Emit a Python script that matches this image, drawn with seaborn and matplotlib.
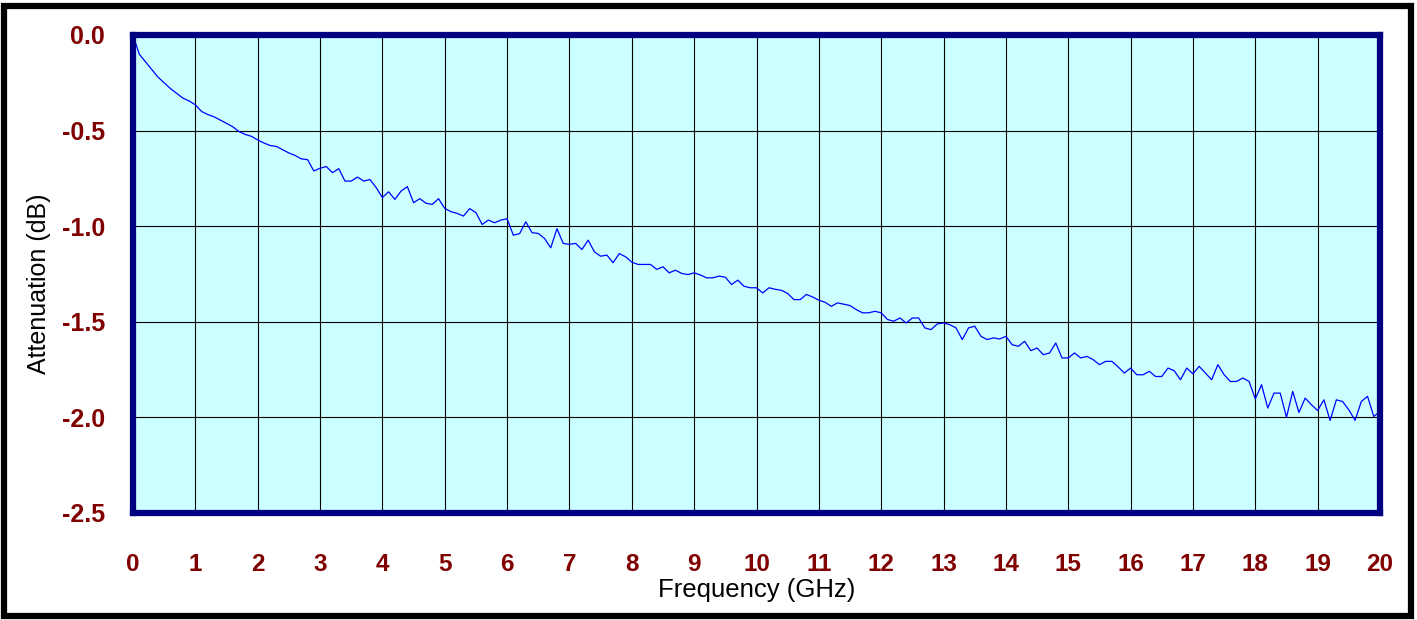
import numpy as np
import pandas as pd
import matplotlib
matplotlib.use('Agg')
import matplotlib.pyplot as plt
import seaborn as sns
from matplotlib.patches import Rectangle

# sweep 0-20 GHz, 0.1 GHz step (201 points)
freq_ghz = np.round(np.linspace(0, 20, 201), 1)

# attenuation readings, one row per GHz
atten_db = [
    0.0, -0.10, -0.14, -0.18, -0.22, -0.25, -0.28, -0.305, -0.33, -0.345,
    -0.365, -0.40, -0.416, -0.428, -0.445, -0.462, -0.48, -0.505, -0.52, -0.53,
    -0.549, -0.565, -0.578, -0.583, -0.60, -0.617, -0.63, -0.648, -0.652, -0.711,
    -0.697, -0.688, -0.72, -0.699, -0.764, -0.764, -0.743, -0.764, -0.756, -0.798,
    -0.85, -0.82, -0.86, -0.816, -0.793, -0.877, -0.856, -0.88, -0.886, -0.856,
    -0.907, -0.924, -0.933, -0.947, -0.908, -0.929, -0.991, -0.968, -0.982, -0.968,
    -0.961, -1.047, -1.039, -0.977, -1.034, -1.038, -1.064, -1.113, -1.013, -1.09,
    -1.095, -1.09, -1.122, -1.073, -1.134, -1.157, -1.151, -1.191, -1.143, -1.16,
    -1.188, -1.20, -1.20, -1.20, -1.226, -1.212, -1.244, -1.23, -1.247, -1.253,
    -1.244, -1.255, -1.27, -1.27, -1.261, -1.267, -1.305, -1.282, -1.314, -1.322,
    -1.322, -1.349, -1.322, -1.33, -1.335, -1.352, -1.384, -1.384, -1.357, -1.37,
    -1.387, -1.398, -1.419, -1.401, -1.408, -1.415, -1.436, -1.453, -1.453, -1.445,
    -1.453, -1.488, -1.497, -1.48, -1.506, -1.48, -1.48, -1.532, -1.541, -1.511,
    -1.506, -1.515, -1.532, -1.593, -1.532, -1.523, -1.576, -1.593, -1.584, -1.59,
    -1.576, -1.62, -1.628, -1.602, -1.651, -1.637, -1.672, -1.663, -1.611, -1.689,
    -1.689, -1.663, -1.689, -1.681, -1.698, -1.724, -1.707, -1.707, -1.736, -1.768,
    -1.742, -1.777, -1.777, -1.759, -1.786, -1.786, -1.742, -1.756, -1.803, -1.742,
    -1.772, -1.733, -1.768, -1.803, -1.724, -1.777, -1.812, -1.812, -1.794, -1.812,
    -1.903, -1.829, -1.951, -1.873, -1.873, -2.0, -1.864, -1.974, -1.899, -1.934,
    -1.964, -1.908, -2.016, -1.908, -1.917, -1.96, -2.016, -1.917, -1.89, -1.995,
    -1.969,
]

x_ticks = list(range(0, 21))
y_ticks = [0.0, -0.5, -1.0, -1.5, -2.0, -2.5]
y_tick_labels = ['0.0', '-0.5', '-1.0', '-1.5', '-2.0', '-2.5']

df = pd.DataFrame({'Frequency': freq_ghz, 'Attenuation': atten_db})

sns.set_style('white')
plt.rcParams['font.family'] = ['Liberation Sans', 'DejaVu Sans']

fig = plt.figure(figsize=(14.17, 6.2), dpi=100)
ax = fig.add_axes([133 / 1417, 1 - 513 / 620, (1380 - 133) / 1417, (513 - 35) / 620])
ax.set_facecolor('#CCFFFF')

sns.lineplot(x='Frequency', y='Attenuation', data=df, ax=ax, color='#0000FF', linewidth=0.9)

ax.set_xlim(0, 20)
ax.set_ylim(-2.5, 0)
ax.set_xticks(x_ticks)
ax.set_yticks(y_ticks)
ax.set_yticklabels(y_tick_labels)
ax.grid(True, color='black', linewidth=0.8)
ax.set_axisbelow(True)

ax.tick_params(axis='x', length=0, pad=29, labelsize=17.5, labelcolor='#800000')
ax.tick_params(axis='y', length=0, pad=20, labelsize=18, labelcolor='#800000')
for lbl in ax.get_xticklabels() + ax.get_yticklabels():
    lbl.set_fontweight('bold')

ax.set_xlabel('Frequency (GHz)', fontsize=18.5, color='black', labelpad=1)
ax.set_ylabel('Attenuation (dB)', fontsize=18, color='black', labelpad=8)
ax.yaxis.label.set_y(0.479)

for s in ax.spines.values():
    s.set_visible(True)
    s.set_color('#000080')
    s.set_linewidth(4.5)

# outer frame
fig.patches.append(Rectangle((4 / 1417, 4 / 620), 1 - 10 / 1417, 1 - 10 / 620,
                             transform=fig.transFigure, fill=False,
                             edgecolor='black', linewidth=4.5))

fig.savefig('out.png', dpi=100)
